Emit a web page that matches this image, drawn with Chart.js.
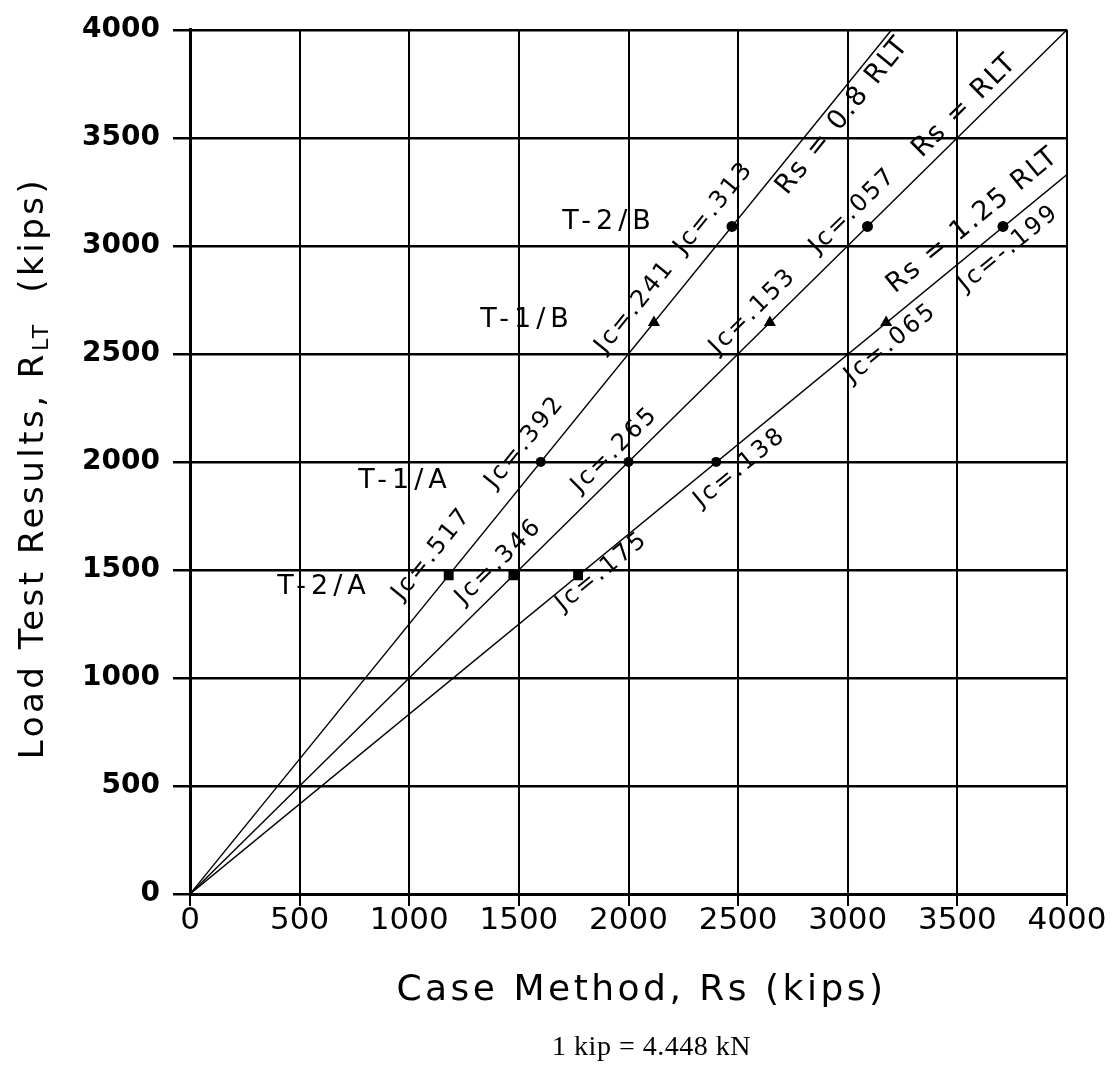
<!DOCTYPE html>
<html>
<head>
<meta charset="utf-8">
<script src="https://cdn.jsdelivr.net/npm/chart.js@4.4.0/dist/chart.umd.min.js"></script>
<style>
  html, body { margin: 0; padding: 0; background: #fff; }
  #wrap { width: 1118px; height: 1078px; }
</style>
</head>
<body>
<div id="wrap"><canvas id="chart" width="1118" height="1078"></canvas></div>
<script>
// Static load tests vs. Case Method capacity (kips)
const TESTS = ['T-2/A', 'T-1/A', 'T-1/B', 'T-2/B'];
const LOAD_TEST = [1475, 2000, 2645, 3090];     // R_LT
const RS_LOW_J = [1180, 1600, 2116, 2472];      // points on Rs = 0.8 RLT
const RS_MID_J = [1475, 2000, 2645, 3090];      // points on Rs = RLT
const RS_HIGH_J = [1770, 2400, 3175, 3708];     // points on Rs = 1.25 RLT
const JC_LOW = ['.517', '.392', '.241', '.313'];
const JC_MID = ['.346', '.265', '.153', '.057'];
const JC_HIGH = ['.175', '.138', '.065', '-.199'];
const MARKERS = ['rect', 'circle', 'triangle', 'circle'];

// reference lines from the origin
const REF_NAMES = ['Rs = 0.8 RLT', 'Rs = RLT', 'Rs = 1.25 RLT'];
const REF_END_X = [3200, 4000, 4000];
const REF_END_Y = [4000, 4000, 3330];

// where the annotations sit, in axis units
const REF_LABEL_AT = [[2978, 3602], [3535, 3648], [3571, 3117]];
const JC_LABEL_AT = [
  [[1104, 1574], [1528, 2092], [2030, 2718], [2390, 3176]],
  [[1409, 1538], [1938, 2055], [2568, 2696], [3024, 3162]],
  [[1879, 1492], [2509, 1973], [3197, 2549], [3735, 2989]]
];
const TEST_LABEL_AT = [[611, 1419], [981, 1913], [1537, 2659], [1911, 3112]];

const MARKER_RADIUS = [7, 5, 7, 5.5];
const FONT = '"DejaVu Sans", "Liberation Sans", sans-serif';

const refSets = REF_NAMES.map((name, i) => ({
  label: name,
  data: [{ x: 0, y: 0 }, { x: REF_END_X[i], y: REF_END_Y[i] }],
  showLine: true,
  borderColor: '#000',
  borderWidth: 1.4,
  pointRadius: 0,
  order: 2
}));

const testSets = TESTS.map((name, i) => ({
  label: name,
  data: [RS_LOW_J[i], RS_MID_J[i], RS_HIGH_J[i]].map(x => ({ x, y: LOAD_TEST[i] })),
  pointStyle: MARKERS[i],
  pointRadius: MARKER_RADIUS[i],
  backgroundColor: '#000',
  borderColor: '#000',
  borderWidth: 0,
  order: 1
}));

function drawText(ctx, text, x, y, angle, font, spacing) {
  ctx.save();
  ctx.translate(x, y);
  ctx.rotate(angle);
  ctx.font = font;
  ctx.letterSpacing = spacing + 'px';
  ctx.textAlign = 'center';
  ctx.textBaseline = 'middle';
  ctx.fillStyle = '#000';
  ctx.fillText(text, 0, 0);
  ctx.restore();
}

const annotations = {
  id: 'annotations',
  afterDatasetsDraw(chart) {
    const { ctx, scales: { x, y } } = chart;
    const px = v => x.getPixelForValue(v);
    const py = v => y.getPixelForValue(v);
    const angles = REF_END_X.map((ex, i) =>
      Math.atan2(py(REF_END_Y[i]) - py(0), px(ex) - px(0)));

    REF_NAMES.forEach((name, i) => {
      const [ax, ay] = REF_LABEL_AT[i];
      drawText(ctx, name, px(ax), py(ay), angles[i], '27px ' + FONT, 2);
    });

    [JC_LOW, JC_MID, JC_HIGH].forEach((vals, li) => {
      vals.forEach((v, k) => {
        const [ax, ay] = JC_LABEL_AT[li][k];
        drawText(ctx, 'Jc=' + v, px(ax), py(ay), angles[li], '24px ' + FONT, 2.5);
      });
    });

    TESTS.forEach((name, i) => {
      const [ax, ay] = TEST_LABEL_AT[i];
      drawText(ctx, name, px(ax), py(ay), 0, '27px ' + FONT, 5);
    });
  },
  afterDraw(chart) {
    const { ctx, chartArea } = chart;
    const cx = (chartArea.left + chartArea.right) / 2;

    // y axis title with subscript
    ctx.save();
    ctx.fillStyle = '#000';
    ctx.translate(43, 468);
    ctx.rotate(-Math.PI / 2);
    ctx.textBaseline = 'alphabetic';
    ctx.textAlign = 'left';
    const parts = [
      { t: 'Load Test Results, R', f: '34px ' + FONT, dy: 0 },
      { t: 'LT', f: '22px ' + FONT, dy: 5 },
      { t: '  (kips)', f: '34px ' + FONT, dy: 0 }
    ];
    ctx.letterSpacing = '3.5px';
    let total = 0;
    parts.forEach(p => { ctx.font = p.f; p.w = ctx.measureText(p.t).width; total += p.w; });
    let pos = -total / 2;
    parts.forEach(p => { ctx.font = p.f; ctx.fillText(p.t, pos, p.dy); pos += p.w; });
    ctx.restore();

    // x axis title
    ctx.save();
    ctx.fillStyle = '#000';
    ctx.font = '36px ' + FONT;
    ctx.letterSpacing = '3.5px';
    ctx.textAlign = 'center';
    ctx.textBaseline = 'alphabetic';
    ctx.fillText('Case Method, Rs (kips)', cx + 13, 1000);

    // unit note
    ctx.font = '28px "Liberation Serif", "DejaVu Serif", serif';
    ctx.letterSpacing = '0.5px';
    ctx.fillText('1 kip = 4.448 kN', cx + 23, 1055);
    ctx.restore();
  }
};

const axisCommon = {
  type: 'linear',
  min: 0,
  max: 4000,
  border: { color: '#000', width: 3 },
};

const plainNumber = v => String(v);

new Chart(document.getElementById('chart'), {
  type: 'scatter',
  data: { datasets: [...refSets, ...testSets] },
  options: {
    responsive: false,
    animation: false,
    layout: { padding: { top: 20, right: 51, bottom: 0, left: 0 } },
    plugins: {
      legend: { display: false },
      tooltip: { enabled: false }
    },
    scales: {
      x: {
        ...axisCommon,
        afterFit(scale) { scale.height = 184; },
        grid: { color: '#000', lineWidth: 2, tickLength: 12 },
        ticks: {
          stepSize: 500,
          color: '#000',
          padding: -4,
          maxRotation: 0,
          autoSkip: false,
          callback: plainNumber,
          font: { family: FONT, size: 31 }
        }
      },
      y: {
        ...axisCommon,
        afterFit(scale) { scale.width = 190; },
        grid: { color: '#000', lineWidth: 2.5, tickLength: 17 },
        ticks: {
          stepSize: 500,
          color: '#000',
          padding: 13,
          autoSkip: false,
          callback: plainNumber,
          font: { family: FONT, size: 28, weight: 'bold' }
        }
      }
    }
  },
  plugins: [annotations]
});
</script>
</body>
</html>
